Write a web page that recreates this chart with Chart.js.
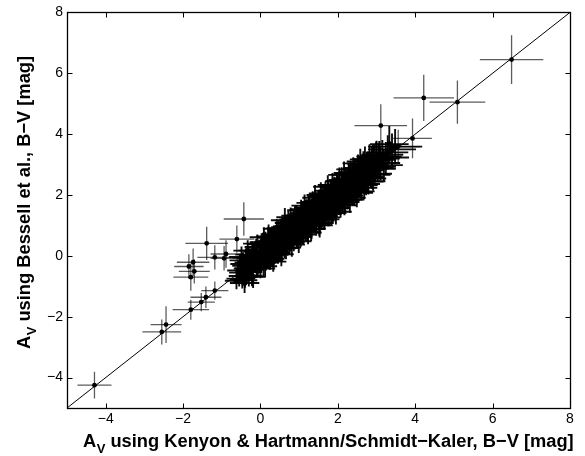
<!DOCTYPE html>
<html>
<head>
<meta charset="utf-8">
<script src="https://cdn.jsdelivr.net/npm/chart.js@4.4.1/dist/chart.umd.min.js"></script>
<style>
  body { margin: 0; background: #fff; }
  canvas { display: block; }
</style>
</head>
<body>
<canvas id="chart" width="585" height="456"></canvas>
<script>
// axis ticks
var xTicks = [-4, -2, 0, 2, 4, 6, 8];
var yTicks = [-4, -2, 0, 2, 4, 6, 8];

// one-to-one line
var lineX = [-5, 8];
var lineY = [-5, 8];

// axis titles (subscript V drawn smaller)
var xTitleMain = 'A';
var xTitleSub = 'V';
var xTitleRest = ' using Kenyon & Hartmann/Schmidt\u2212Kaler, B\u2212V [mag]';
var yTitleMain = 'A';
var yTitleSub = 'V';
var yTitleRest = ' using Bessell et al., B\u2212V [mag]';

// isolated stars
var outX    = [6.49, 4.22, 5.09, 3.11, 3.93, 3.56, -4.29, -2.55, -2.44, -1.80, -1.53, -1.41, -1.18, -1.71, -1.80, -1.85, -1.74, -1.39, -1.18, -0.89, -0.94, -0.61, -0.43];
var outY    = [6.45, 5.19, 5.05, 4.28, 3.86, 3.59, -4.25, -2.50, -2.26, -1.77, -1.52, -1.36, -1.14, -0.51, -0.70, -0.35, -0.21, 0.41, -0.05, 0.06, -0.08, 0.55, 1.21];
var outXErr = [0.82, 0.78, 0.72, 0.68, 0.50, 0.55, 0.44, 0.50, 0.40, 0.47, 0.35, 0.40, 0.35, 0.40, 0.45, 0.38, 0.42, 0.55, 0.45, 0.40, 0.35, 0.45, 0.52];
var outYErr = [0.80, 0.76, 0.71, 0.70, 0.65, 0.55, 0.44, 0.41, 0.60, 0.33, 0.30, 0.35, 0.30, 0.40, 0.45, 0.40, 0.45, 0.55, 0.40, 0.45, 0.40, 0.45, 0.55];

// the dense band of stars (estimated, individual marks are not readable)
var bandX = [
  -0.62,-0.58,-0.55,-0.52,-0.50,-0.47,-0.45,-0.42,-0.40,-0.37,-0.35,-0.31,-0.28,-0.25,-0.22,-0.18,-0.15,-0.11,-0.07,-0.03,
  0.01,0.02,0.04,0.05,0.07,0.08,0.10,0.11,0.13,0.14,
  0.16,0.17,0.19,0.20,0.22,0.23,0.25,0.26,0.28,0.29,
  0.31,0.32,0.34,0.35,0.37,0.38,0.40,0.41,0.43,0.44,
  0.46,0.47,0.49,0.50,0.52,0.53,0.55,0.56,0.58,0.59,
  0.61,0.62,0.64,0.65,0.67,0.68,0.70,0.71,0.73,0.74,
  0.76,0.77,0.79,0.80,0.82,0.83,0.85,0.86,0.88,0.89,
  0.91,0.92,0.94,0.95,0.96,0.97,0.98,0.99,0.93,0.87,
  1.01,1.02,1.04,1.05,1.07,1.08,1.10,1.11,1.13,1.14,
  1.16,1.17,1.19,1.20,1.22,1.23,1.25,1.26,1.28,1.29,
  1.31,1.32,1.34,1.35,1.37,1.38,1.40,1.41,1.43,1.44,
  1.46,1.47,1.49,1.50,1.52,1.53,1.55,1.56,1.58,1.59,
  1.61,1.62,1.64,1.65,1.67,1.68,1.70,1.71,1.73,1.74,
  1.76,1.77,1.79,1.80,1.82,1.83,1.85,1.86,1.88,1.89,
  1.91,1.92,1.94,1.95,1.96,1.97,1.98,1.99,1.93,1.87,
  2.01,2.03,2.05,2.08,2.10,2.12,2.15,2.17,2.19,2.22,2.24,2.26,2.29,2.31,2.33,2.36,2.38,2.40,
  2.43,2.45,2.47,2.50,2.52,2.54,2.57,2.59,2.61,2.64,2.66,2.68,2.71,2.73,2.75,2.78,2.80,
  2.84,2.88,2.91,2.95,2.99,3.03,3.07,3.10,3.15,3.19,3.24,3.29,3.33,3.40,3.48
];
var bandY = [
  -0.82,-0.48,-0.75,-0.27,-0.55,-0.77,-0.15,-0.42,-0.80,-0.22,-0.50,0.04,-0.53,-0.20,-0.67,0.02,-0.25,0.29,-0.37,0.07,
  0.13,-0.29,0.31,-0.03,0.45,-0.34,0.15,-0.08,0.46,-0.22,
  0.34,0.15,-0.08,0.61,0.08,0.32,-0.14,0.50,0.06,0.60,
  0.26,0.47,-0.10,0.71,0.20,0.40,0.69,0.08,0.64,0.33,
  0.85,0.22,0.56,0.10,0.78,0.44,0.89,0.26,0.71,0.43,
  0.83,0.25,0.68,0.97,0.46,0.85,0.27,0.99,0.67,0.84,
  0.42,1.14,0.67,0.99,0.54,0.84,1.20,0.45,1.13,0.71,
  0.99,0.68,1.24,0.57,1.10,0.94,1.21,0.70,1.33,0.74,
  0.86,1.30,0.67,1.11,1.40,0.85,1.26,0.70,1.33,1.10,
  1.53,0.87,1.30,1.02,1.47,0.88,1.28,1.57,1.02,1.43,
  0.88,1.54,1.24,1.74,1.05,1.45,1.58,1.21,1.77,1.06,
  1.46,1.74,1.35,1.62,1.07,1.83,1.48,1.77,1.29,1.95,
  1.45,1.67,1.97,1.26,1.82,1.44,1.96,1.70,1.39,1.93,
  2.14,1.66,1.88,1.53,2.11,1.41,2.01,1.81,2.12,1.58,
  2.26,1.73,1.96,1.59,2.16,1.89,2.29,1.77,2.04,1.47,
  2.22,1.70,2.13,1.93,2.46,1.85,2.27,1.77,2.49,2.16,2.41,1.91,2.54,2.19,2.72,2.14,2.42,2.10,
  2.71,2.36,2.62,2.12,2.85,2.36,2.63,2.33,2.83,2.62,3.03,2.36,2.81,2.59,3.01,2.54,2.98,
  2.95,2.70,3.12,2.86,3.20,2.93,3.25,3.05,3.32,2.98,3.23,3.40,3.67,3.50,3.59
];
var bandXErr = [
  0.30,0.28,0.33,0.26,0.31,0.29,0.35,0.27,0.32,0.30,0.25,0.34,0.28,0.31,0.29,0.33,0.27,0.30,0.32,0.26,
  0.29,0.33,0.27,0.31,0.35,0.26,0.30,0.32,0.28,0.34,
  0.31,0.27,0.33,0.29,0.36,0.28,0.30,0.32,0.26,0.35,
  0.30,0.34,0.28,0.31,0.27,0.33,0.29,0.36,0.30,0.32,
  0.28,0.35,0.31,0.27,0.33,0.30,0.29,0.34,0.32,0.28,
  0.36,0.30,0.27,0.33,0.31,0.29,0.35,0.28,0.32,0.30,
  0.34,0.27,0.31,0.36,0.29,0.33,0.30,0.28,0.35,0.31,
  0.32,0.29,0.37,0.30,0.27,0.34,0.31,0.33,0.28,0.36,
  0.33,0.37,0.31,0.35,0.30,0.38,0.34,0.32,0.36,0.31,
  0.39,0.33,0.35,0.30,0.37,0.34,0.32,0.38,0.31,0.36,
  0.35,0.40,0.33,0.31,0.37,0.34,0.38,0.32,0.36,0.35,
  0.31,0.39,0.34,0.37,0.33,0.36,0.40,0.32,0.35,0.38,
  0.34,0.31,0.37,0.41,0.35,0.33,0.39,0.36,0.32,0.38,
  0.37,0.34,0.42,0.35,0.31,0.39,0.36,0.33,0.40,0.35,
  0.38,0.32,0.41,0.36,0.34,0.39,0.37,0.33,0.40,0.35,
  0.38,0.42,0.36,0.45,0.40,0.37,0.44,0.39,0.43,0.41,0.36,0.46,0.40,0.38,0.44,0.42,0.39,0.47,
  0.41,0.43,0.38,0.45,0.40,0.48,0.42,0.44,0.39,0.46,0.43,0.41,0.49,0.44,0.42,0.47,0.45,
  0.48,0.52,0.45,0.55,0.50,0.47,0.58,0.51,0.54,0.49,0.60,0.53,0.50,0.62,0.70
];
var bandYErr = [
  0.28,0.31,0.26,0.33,0.29,0.30,0.27,0.34,0.25,0.31,0.32,0.28,0.30,0.26,0.33,0.29,0.31,0.27,0.30,0.28,
  0.30,0.27,0.34,0.29,0.32,0.36,0.28,0.31,0.33,0.26,
  0.35,0.30,0.28,0.32,0.29,0.34,0.31,0.27,0.36,0.30,
  0.29,0.33,0.31,0.28,0.35,0.30,0.32,0.27,0.34,0.29,
  0.31,0.28,0.36,0.30,0.33,0.29,0.35,0.27,0.32,0.31,
  0.28,0.34,0.30,0.29,0.36,0.32,0.27,0.33,0.31,0.35,
  0.30,0.28,0.34,0.31,0.29,0.37,0.32,0.30,0.27,0.33,
  0.35,0.31,0.29,0.34,0.28,0.32,0.36,0.30,0.33,0.29,
  0.35,0.31,0.38,0.34,0.36,0.32,0.39,0.33,0.37,0.35,
  0.31,0.38,0.34,0.36,0.33,0.40,0.35,0.32,0.37,0.34,
  0.39,0.33,0.36,0.35,0.31,0.38,0.34,0.37,0.32,0.40,
  0.36,0.34,0.38,0.33,0.41,0.35,0.32,0.37,0.39,0.34,
  0.36,0.40,0.33,0.35,0.38,0.31,0.37,0.34,0.42,0.36,
  0.33,0.39,0.35,0.38,0.34,0.40,0.36,0.32,0.37,0.41,
  0.34,0.38,0.36,0.33,0.40,0.35,0.39,0.37,0.34,0.42,
  0.40,0.36,0.43,0.39,0.45,0.41,0.38,0.44,0.40,0.46,0.42,0.37,0.45,0.43,0.39,0.47,0.41,0.44,
  0.38,0.46,0.43,0.40,0.48,0.42,0.45,0.39,0.47,0.44,0.41,0.49,0.43,0.46,0.40,0.48,0.45,
  0.46,0.50,0.53,0.48,0.55,0.47,0.52,0.57,0.49,0.54,0.51,0.56,0.60,0.52,0.58
];

// second layer of the band, more stars filling the gaps
var band2X = [
  -0.49,-0.46,-0.43,-0.41,-0.38,-0.36,-0.33,-0.30,-0.27,-0.24,
  -0.21,-0.19,-0.16,-0.13,-0.10,-0.08,-0.05,-0.02,0.00,0.03,
  0.06,0.09,0.12,0.15,0.18,0.21,0.24,0.27,0.30,0.33,
  0.36,0.39,0.42,0.45,0.48,0.51,0.54,0.57,0.60,0.63,
  0.66,0.69,0.72,0.75,0.78,0.81,0.84,0.87,0.90,0.93,
  0.96,0.99,1.02,1.05,1.08,1.11,1.14,1.17,1.20,1.23,
  1.26,1.29,1.32,1.35,1.38,1.41,1.44,1.47,1.50,1.53,
  1.56,1.59,1.62,1.65,1.68,1.71,1.74,1.77,1.80,1.83,
  1.86,1.89,1.92,1.95,1.98,2.01,2.04,2.07,2.10,2.13,
  2.16,2.19,2.22,2.25,2.28,2.31,2.34,2.37,2.40,2.43,
  2.46,2.49,2.52,2.55,2.58,2.61,2.64,2.67,2.70,2.73,
  2.76,2.79,2.82,2.85,2.88,2.91,2.94,2.97,3.00,3.05
];
var band2Y = [
  -0.04,-0.66,-0.33,-0.89,-0.06,-0.41,0.17,-0.65,-0.09,-0.36,
  0.17,-0.69,-0.14,0.14,-0.40,0.40,-0.20,0.10,-0.42,0.38,
  -0.02,0.61,-0.34,0.35,-0.07,0.64,-0.14,0.33,0.60,-0.19,
  0.52,0.21,0.89,0.12,0.48,0.91,0.05,0.81,0.50,1.17,
  0.26,0.80,1.08,0.52,1.27,0.37,0.91,0.73,1.32,0.62,
  1.22,0.48,1.16,1.50,0.82,1.14,1.65,0.80,1.39,0.76,
  1.59,1.22,0.89,1.74,1.19,1.91,1.10,1.56,1.78,1.00,
  2.00,1.31,1.67,1.20,2.05,1.58,2.27,1.38,2.01,1.79,
  2.33,1.57,2.07,1.45,2.32,1.92,2.45,1.66,2.33,1.96,
  2.66,1.83,2.30,1.98,2.66,1.85,2.52,2.31,2.84,2.10,
  2.75,2.07,2.64,2.34,3.04,2.24,2.89,2.56,3.10,2.44,
  2.96,2.45,3.17,2.69,3.18,2.66,3.16,2.89,3.27,3.20
];
var band2XErr = [
  0.32,0.36,0.30,0.38,0.34,0.31,0.37,0.33,0.35,0.30,
  0.36,0.32,0.39,0.31,0.34,0.37,0.33,0.30,0.38,0.35,
  0.33,0.37,0.31,0.36,0.40,0.32,0.35,0.38,0.30,0.34,
  0.37,0.33,0.36,0.31,0.39,0.35,0.32,0.38,0.34,0.36,
  0.31,0.40,0.35,0.33,0.37,0.34,0.39,0.32,0.36,0.38,
  0.35,0.33,0.41,0.36,0.32,0.38,0.34,0.40,0.37,0.35,
  0.39,0.34,0.37,0.42,0.35,0.33,0.40,0.36,0.38,0.34,
  0.37,0.41,0.35,0.39,0.43,0.36,0.38,0.34,0.42,0.40,
  0.38,0.43,0.36,0.41,0.39,0.44,0.37,0.42,0.40,0.45,
  0.41,0.39,0.46,0.40,0.43,0.38,0.47,0.42,0.44,0.41,
  0.45,0.42,0.48,0.43,0.46,0.41,0.49,0.44,0.47,0.45,
  0.48,0.44,0.51,0.46,0.50,0.45,0.53,0.47,0.52,0.55
];
var band2YErr = [
  0.35,0.31,0.37,0.33,0.30,0.38,0.34,0.36,0.32,0.39,
  0.31,0.37,0.34,0.36,0.33,0.30,0.38,0.35,0.32,0.36,
  0.38,0.33,0.36,0.31,0.35,0.39,0.32,0.34,0.37,0.33,
  0.34,0.38,0.32,0.37,0.35,0.31,0.39,0.33,0.36,0.40,
  0.37,0.34,0.39,0.36,0.32,0.40,0.35,0.38,0.33,0.36,
  0.33,0.39,0.36,0.34,0.41,0.35,0.37,0.32,0.40,0.38,
  0.36,0.41,0.34,0.38,0.36,0.42,0.35,0.39,0.37,0.40,
  0.42,0.37,0.40,0.35,0.39,0.43,0.38,0.41,0.36,0.44,
  0.39,0.44,0.38,0.42,0.40,0.37,0.45,0.41,0.43,0.39,
  0.44,0.40,0.42,0.46,0.39,0.43,0.41,0.47,0.40,0.45,
  0.42,0.47,0.44,0.40,0.48,0.43,0.46,0.42,0.49,0.45,
  0.47,0.43,0.50,0.46,0.44,0.52,0.48,0.45,0.51,0.49
];

// point lists for the two star datasets
function toPoints(xs, ys, exs, eys) {
    return xs.map(function (x, i) {
        return { x: x, y: ys[i], xErr: exs[i], yErr: eys[i] };
    });
}
var bandStars = toPoints(bandX, bandY, bandXErr, bandYErr)
    .concat(toPoints(band2X, band2Y, band2XErr, band2YErr));
var loneStars = toPoints(outX, outY, outXErr, outYErr);
var diagonal = lineX.map(function (x, i) { return { x: x, y: lineY[i] }; });

var FONT = '"Liberation Sans", Arial, Helvetica, sans-serif';
var TITLE_SIZE = 18.3;

// horizontal + vertical error bars, drawn under the dots
var errorBarPlugin = {
    id: 'errorBars',
    beforeDatasetsDraw: function (chart) {
        var ctx = chart.ctx, xs = chart.scales.x, ys = chart.scales.y, a = chart.chartArea;
        ctx.save();
        ctx.beginPath();
        ctx.rect(a.left, a.top, a.right - a.left, a.bottom - a.top);
        ctx.clip();
        chart.data.datasets.forEach(function (ds) {
            if (!ds.errorColor) return;
            ctx.strokeStyle = ds.errorColor;
            ctx.lineWidth = ds.errorWidth;
            ds.data.forEach(function (p) {
                var px = xs.getPixelForValue(p.x), py = ys.getPixelForValue(p.y);
                ctx.beginPath();
                ctx.moveTo(xs.getPixelForValue(p.x - p.xErr), py);
                ctx.lineTo(xs.getPixelForValue(p.x + p.xErr), py);
                ctx.moveTo(px, ys.getPixelForValue(p.y - p.yErr));
                ctx.lineTo(px, ys.getPixelForValue(p.y + p.yErr));
                ctx.stroke();
            });
        });
        ctx.restore();
    }
};

// draws "A" + subscript "V" + rest of the title
function drawSubTitle(ctx, x, y, angle, main, sub, rest) {
    ctx.save();
    ctx.translate(x, y);
    ctx.rotate(angle);
    ctx.fillStyle = '#000';
    ctx.textAlign = 'left';
    ctx.textBaseline = 'alphabetic';
    ctx.font = 'bold ' + TITLE_SIZE + 'px ' + FONT;
    ctx.fillText(main, 0, 0);
    var w = ctx.measureText(main).width;
    ctx.font = 'bold 13px ' + FONT;
    ctx.fillText(sub, w + 0.5, 6);
    w += ctx.measureText(sub).width + 0.5;
    ctx.font = 'bold ' + TITLE_SIZE + 'px ' + FONT;
    ctx.fillText(rest, w, 0);
    ctx.restore();
}

// box round the plot, inward tick marks, axis titles
var framePlugin = {
    id: 'frame',
    afterDraw: function (chart) {
        var ctx = chart.ctx, xs = chart.scales.x, ys = chart.scales.y, a = chart.chartArea;
        var L = Math.round(a.left) + 0.5, R = Math.round(a.right) + 0.5;
        var T = Math.round(a.top) + 0.5, B = Math.round(a.bottom) + 0.5;
        ctx.save();
        ctx.strokeStyle = '#000';
        ctx.lineWidth = 1.3;
        ctx.strokeRect(L, T, R - L, B - T);
        ctx.lineWidth = 1;
        ctx.beginPath();
        xTicks.forEach(function (v) {
            var px = Math.round(xs.getPixelForValue(v)) + 0.5;
            ctx.moveTo(px, B); ctx.lineTo(px, B - 5);
            ctx.moveTo(px, T); ctx.lineTo(px, T + 5);
        });
        yTicks.forEach(function (v) {
            var py = Math.round(ys.getPixelForValue(v)) + 0.5;
            ctx.moveTo(L, py); ctx.lineTo(L + 5, py);
            ctx.moveTo(R, py); ctx.lineTo(R - 5, py);
        });
        ctx.stroke();
        ctx.restore();

        drawSubTitle(ctx, 83, 447, 0, xTitleMain, xTitleSub, xTitleRest);
        drawSubTitle(ctx, 30, 349, -Math.PI / 2, yTitleMain, yTitleSub, yTitleRest);
    }
};

function minusLabel(v) {
    return String(v).replace('-', '\u2212');
}

var ctx = document.getElementById('chart').getContext('2d');
var chart = new Chart(ctx, {
    type: 'scatter',
    data: {
        datasets: [{
            label: 'band',
            data: bandStars,
            pointRadius: 2.8,
            pointBackgroundColor: '#000',
            pointBorderWidth: 0,
            showLine: false,
            errorColor: 'rgba(0,0,0,0.95)',
            errorWidth: 1.9
        }, {
            label: 'outliers',
            data: loneStars,
            pointRadius: 2.4,
            pointBackgroundColor: '#000',
            pointBorderWidth: 0,
            showLine: false,
            errorColor: 'rgba(0,0,0,0.64)',
            errorWidth: 1.3
        }, {
            label: 'one-to-one',
            data: diagonal,
            showLine: true,
            borderColor: '#000',
            borderWidth: 1,
            pointRadius: 0
        }]
    },
    options: {
        responsive: false,
        devicePixelRatio: 1,
        animation: false,
        layout: { padding: { left: 0, top: 11, right: 15, bottom: 0 } },
        plugins: {
            legend: { display: false },
            tooltip: { enabled: false }
        },
        scales: {
            x: {
                type: 'linear',
                min: -5,
                max: 8,
                grid: { display: false, drawTicks: false },
                border: { display: false },
                afterBuildTicks: function (s) { s.ticks = xTicks.map(function (v) { return { value: v }; }); },
                afterFit: function (s) { s.height = 48; },
                ticks: {
                    padding: 3,
                    color: '#000',
                    font: { family: FONT, size: 14 },
                    callback: minusLabel
                }
            },
            y: {
                type: 'linear',
                min: -5,
                max: 8,
                grid: { display: false, drawTicks: false },
                border: { display: false },
                afterBuildTicks: function (s) { s.ticks = yTicks.map(function (v) { return { value: v }; }); },
                afterFit: function (s) { s.width = 67; },
                ticks: {
                    padding: 4,
                    color: '#000',
                    font: { family: FONT, size: 14 },
                    callback: minusLabel
                }
            }
        }
    },
    plugins: [errorBarPlugin, framePlugin]
});
</script>
</body>
</html>
